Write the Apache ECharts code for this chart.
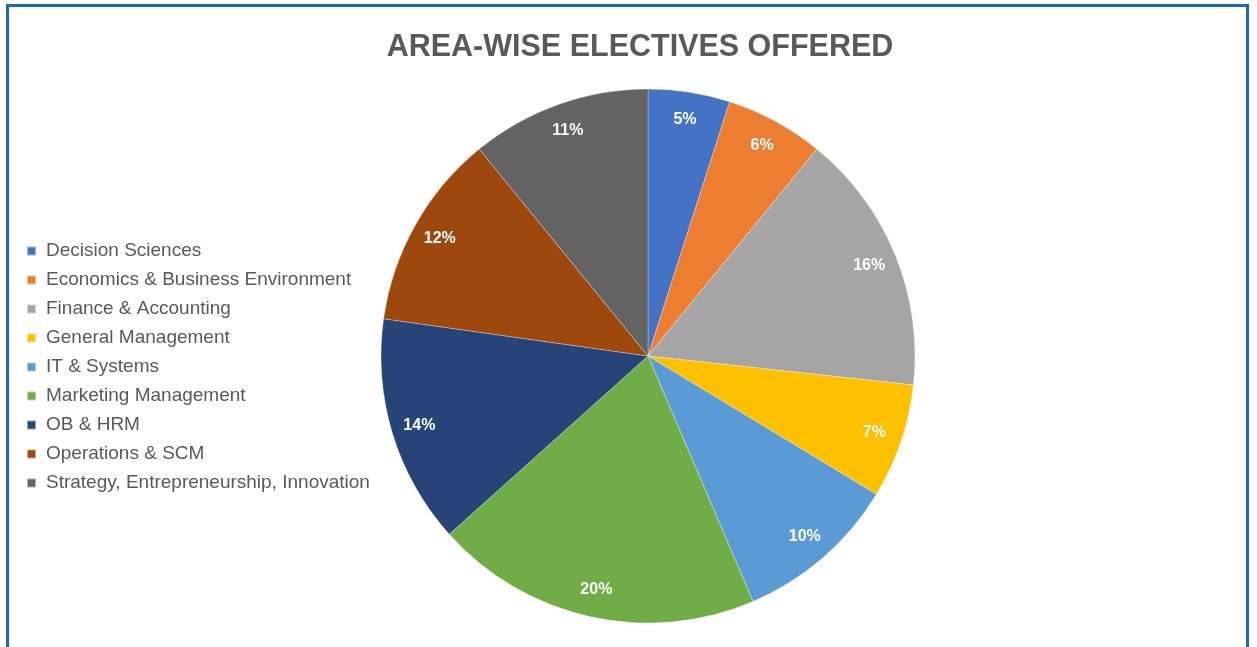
<!DOCTYPE html>
<html>
<head>
<meta charset="utf-8">
<script src="https://cdn.jsdelivr.net/npm/echarts@6/dist/echarts.min.js"></script>
<style>
html,body{margin:0;padding:0;background:#fff;width:1257px;height:647px;overflow:hidden;}
#frame{position:absolute;left:6px;top:4px;width:1243px;height:700px;border-top:3px solid #1F66B8;border-left:3px solid #1F66B8;border-right:3px solid #1F66B8;box-sizing:border-box;}
#chart{position:absolute;left:0;top:0;width:1257px;height:647px;}
</style>
</head>
<body>
<div id="frame"></div>
<div id="chart"></div>
<script>
const titleText = 'AREA-WISE ELECTIVES OFFERED';
const categories = [
  'Decision Sciences',
  'Economics & Business Environment',
  'Finance & Accounting',
  'General Management',
  'IT & Systems',
  'Marketing Management',
  'OB & HRM',
  'Operations & SCM',
  'Strategy, Entrepreneurship, Innovation'
];
const values = [5, 6, 16, 7, 10, 20, 14, 12, 11];
const colors = ['#4472C4', '#ED7D31', '#A5A5A5', '#FFC000', '#5B9BD5', '#70AD47', '#264478', '#9E480E', '#636363'];

const data = categories.map((n, i) => ({ name: n, value: values[i], itemStyle: { color: colors[i] } }));
const labelData = categories.map((n, i) => ({ name: n, value: values[i] }));

const chart = echarts.init(document.getElementById('chart'), null, { renderer: 'canvas' });
chart.setOption({
  animation: false,
  backgroundColor: 'transparent',
  title: {
    text: titleText,
    left: 635,
    textAlign: 'center',
    top: 27,
    textStyle: { fontFamily: 'Liberation Sans, Arial, sans-serif', fontWeight: 'bold', fontSize: 30.5, color: '#595959' }
  },
  legend: {
    orient: 'vertical',
    left: 21,
    top: 236,
    data: categories,
    icon: 'rect',
    itemWidth: 9,
    itemHeight: 9,
    itemGap: 9,
    textStyle: { fontFamily: 'Liberation Sans, Arial, sans-serif', fontSize: 19, color: '#595959', lineHeight: 20, padding: [0, 0, 0, 5] }
  },
  series: [
    {
      type: 'pie',
      center: [648, 356],
      radius: [0, 267],
      startAngle: 90,
      clockwise: true,
      data: data,
      label: { show: false },
      labelLine: { show: false },
      itemStyle: { borderColor: 'rgba(255,255,255,0.5)', borderWidth: 0.6 },
      emphasis: { disabled: true }
    },
    {
      type: 'pie',
      center: [648, 356],
      radius: [205, 267],
      startAngle: 90,
      clockwise: true,
      silent: true,
      data: labelData,
      itemStyle: { color: 'rgba(0,0,0,0)' },
      label: {
        show: true,
        position: 'inside',
        formatter: '{c}%',
        color: '#ffffff',
        fontFamily: 'Liberation Sans, Arial, sans-serif',
        fontWeight: 'bold',
        fontSize: 16
      },
      labelLine: { show: false },
      emphasis: { disabled: true }
    }
  ]
});
</script>
</body>
</html>
